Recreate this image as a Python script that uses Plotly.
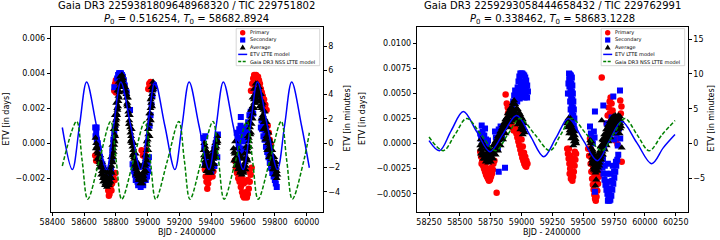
import plotly.graph_objects as go

W, H = 720, 240

# ---------------- left panel ----------------
L_TITLE1 = "Gaia DR3 2259381809648968320 / TIC 229751802"
L_TITLE2 = "<i>P</i><sub>0</sub> = 0.516254, <i>T</i><sub>0</sub> = 58682.8924"
L_XRANGE = [58390, 60101]
L_YRANGE = [-0.0039, 0.00666]

L_MODEL_X = [58463, 58526, 58571, 58616, 58678, 58741, 58786, 58831, 58893, 58956, 59001, 59046,
             59108, 59171, 59216, 59261, 59323, 59386, 59431, 59476, 59538, 59601, 59646, 59691,
             59753, 59816, 59861, 59906, 59968, 60017]
L_MODEL_Y = [0.0009, -0.0015, 0.0010, 0.0035, 0.0010, -0.0015, 0.0010, 0.0035, 0.0010, -0.0015,
             0.0010, 0.0035, 0.0010, -0.0015, 0.0010, 0.0035, 0.0010, -0.0015, 0.0010, 0.0035,
             0.0010, -0.0015, 0.0010, 0.0035, 0.0010, -0.0015, 0.0010, 0.0035, 0.0010, -0.0014]

L_GAIA_X = [58463, 58553, 58588, 58623, 58695, 58767, 58802, 58837, 58910, 58982, 59017, 59051,
            59124, 59196, 59231, 59266, 59338, 59411, 59446, 59481, 59553, 59625, 59660, 59695,
            59768, 59840, 59875, 59910, 59982, 60017]
L_GAIA_Y = [-0.0013, 0.00125, -0.0010, -0.0032, -0.0010, 0.00125, -0.0010, -0.0032, -0.0010,
            0.00125, -0.0010, -0.0032, -0.0010, 0.00125, -0.0010, -0.0032, -0.0010, 0.00125,
            -0.0010, -0.0032, -0.0010, 0.00125, -0.0010, -0.0032, -0.0010, 0.00125, -0.0010,
            -0.0032, -0.0010, 0.0006]

L_PRIMARY = [
    (58670, -0.0007), (58676, -0.0010), (58682, -0.0006), (58688, -0.0009),
    (58742, -0.0020), (58748, -0.0024), (58752, -0.0027), (58756, -0.0030), (58760, -0.0029),
    (58764, -0.0026), (58768, -0.0024), (58772, -0.0027), (58776, -0.0023), (58780, -0.0020),
    (58786, -0.0018), (58792, -0.0021), (58797, -0.0017), (58750, -0.0019), (58762, -0.0021),
    (58790, 0.0030), (58795, 0.0034), (58800, 0.0036), (58806, 0.0035), (58812, 0.0033),
    (58818, 0.0036), (58824, 0.0034), (58800, 0.0029),
    (58962, -0.0004), (58970, -0.0007), (58978, -0.0005), (58986, -0.0008), (58992, -0.0004),
    (59004, 0.0031), (59010, 0.0034), (59018, 0.0035), (59026, 0.0033), (59032, 0.0031),
    (59360, -0.0015), (59365, -0.0019), (59370, -0.0022), (59375, -0.0026), (59380, -0.0023),
    (59386, -0.0020), (59392, -0.0018), (59400, -0.0017), (59408, -0.0019), (59413, -0.0016),
    (59548, -0.0010), (59555, -0.0014), (59562, -0.0017), (59570, -0.0020), (59578, -0.0022),
    (59586, -0.0025), (59594, -0.0028), (59600, -0.0030), (59606, -0.0031), (59612, -0.0030),
    (59618, -0.0028), (59624, -0.0031), (59630, -0.0029), (59636, -0.0026), (59642, -0.0022),
    (59648, -0.0018), (59654, -0.0014), (59580, -0.0016), (59592, -0.0020), (59604, -0.0023),
    (59616, -0.0022), (59628, -0.0021), (59640, -0.0016),
    (59650, 0.0030), (59658, 0.0034), (59664, 0.0037), (59670, 0.0039), (59676, 0.0038),
    (59682, 0.0039), (59688, 0.0037), (59694, 0.0038), (59700, 0.0036), (59706, 0.0034),
    (59712, 0.0031), (59718, 0.0029), (59724, 0.0027), (59732, 0.0025), (59740, 0.0022),
    (59748, 0.0019), (59664, 0.0030), (59676, 0.0033), (59690, 0.0032), (59704, 0.0030),
    (59755, 0.0010), (59762, 0.0006), (59768, 0.0002), (59775, -0.0001),
]

L_SECONDARY = [
    (58670, 0.0009), (58676, 0.0006), (58680, 0.0002), (58686, 0.0000), (58692, -0.0003),
    (58672, 0.0004), (58679, 0.0009), (58700, -0.0008), (58708, -0.0011),
    (58715, -0.0012), (58722, -0.0014), (58728, -0.0016), (58735, -0.0017), (58742, -0.0016),
    (58750, -0.0018), (58758, -0.0019), (58765, -0.0017), (58770, -0.0015), (58730, -0.0019),
    (58745, -0.0020), (58760, -0.0021),
    (58778, -0.0004), (58784, 0.0002), (58790, 0.0006), (58795, 0.0009), (58775, -0.0010),
    (58790, 0.0032),
    (58808, 0.0037), (58814, 0.0039), (58820, 0.0040), (58826, 0.0040), (58832, 0.0040),
    (58838, 0.0039), (58844, 0.0038), (58850, 0.0036), (58856, 0.0033), (58862, 0.0030),
    (58868, 0.0029), (58826, 0.0036), (58840, 0.0035),
    (58889, 0.0019),
    (58905, -0.0012), (58912, -0.0015), (58920, -0.0018), (58928, -0.0020), (58936, -0.0022),
    (58944, -0.0023), (58952, -0.0023), (58960, -0.0023), (58968, -0.0022), (58976, -0.0020),
    (58984, -0.0018), (58992, -0.0015), (59000, -0.0012), (59008, -0.0008), (58950, -0.0020),
    (58970, -0.0019), (58915, -0.0016), (58925, -0.0021), (58940, -0.0024), (58956, -0.0025),
    (58972, -0.0024), (58988, -0.0021), (58996, -0.0019), (59004, -0.0016),
    (59012, 0.0010), (59018, 0.0016), (59024, 0.0022), (59030, 0.0027), (59036, 0.0031),
    (59040, 0.0033),
    (59350, 0.0003), (59356, -0.0002), (59362, 0.0004), (59366, -0.0006), (59372, -0.0009),
    (59380, -0.0011), (59388, -0.0010), (59396, -0.0011), (59404, -0.0009), (59412, -0.0006),
    (59420, -0.0003), (59428, 0.0000), (59436, 0.0002), (59442, 0.0005), (59360, -0.0012),
    (59400, -0.0016), (59420, -0.0013), (59438, -0.0008),
    (59586, 0.0015),
    (59560, 0.0006), (59566, 0.0003), (59572, 0.0000), (59578, -0.0003), (59584, 0.0010),
    (59590, 0.0007), (59596, 0.0004), (59602, 0.0001), (59608, -0.0003), (59614, 0.0002),
    (59620, 0.0006), (59626, 0.0009), (59632, 0.0012), (59576, 0.0008), (59640, 0.0016),
    (59648, 0.0018), (59656, 0.0019), (59664, 0.0017), (59600, 0.0009), (59590, -0.0006),
    (59712, 0.0009), (59720, 0.0008), (59728, 0.0004), (59736, 0.0002), (59744, -0.0002),
    (59752, -0.0005), (59760, -0.0008), (59768, -0.0011), (59776, -0.0014), (59784, -0.0017),
    (59792, -0.0019), (59800, -0.0021), (59806, -0.0023), (59812, -0.0025), (59740, 0.0006),
    (59760, 0.0000), (59780, -0.0008), (59800, -0.0015), (59716, 0.0013), (59724, 0.0011),
    (59732, 0.0008), (59748, 0.0003), (59756, -0.0001), (59764, -0.0004), (59772, -0.0007),
    (59788, -0.0012), (59796, -0.0014), (59808, -0.0019),
    (59680, 0.0028), (59688, 0.0026),
]

L_AVERAGE = [
    (58672, 0.0003), (58680, -0.0002), (58688, -0.0006), (58696, -0.0010), (58704, -0.0013),
    (58712, -0.0016), (58720, -0.0018), (58728, -0.0020), (58736, -0.0021), (58744, -0.0022),
    (58752, -0.0022), (58760, -0.0020), (58768, -0.0016), (58776, -0.0010), (58784, -0.0003),
    (58792, 0.0005), (58800, 0.0013), (58808, 0.0020), (58816, 0.0027), (58824, 0.0032),
    (58832, 0.0035), (58840, 0.0036), (58848, 0.0034), (58856, 0.0030),
    (58674, -0.0003), (58684, -0.0009), (58696, -0.0014), (58708, -0.0018), (58720, -0.0022),
    (58732, -0.0024), (58744, -0.0025), (58756, -0.0024), (58766, -0.0022), (58774, -0.0017),
    (58780, -0.0011), (58786, -0.0005), (58792, 0.0001), (58798, 0.0008), (58804, 0.0014),
    (58810, 0.0019), (58816, 0.0024), (58822, 0.0029), (58828, 0.0032), (58846, 0.0032),
    (58690, -0.0003), (58702, -0.0007), (58714, -0.0011), (58726, -0.0014), (58738, -0.0016),
    (58750, -0.0017), (58762, -0.0014), (58770, -0.0008), (58778, -0.0001), (58786, 0.0008),
    (58794, 0.0016), (58802, 0.0023), (58810, 0.0030), (58818, 0.0035), (58826, 0.0038),
    (58838, 0.0039),
    (58676, 0.0000), (58692, -0.0008), (58700, -0.0012), (58716, -0.0016), (58724, -0.0019),
    (58740, -0.0019), (58748, -0.0023), (58756, -0.0022), (58764, -0.0019), (58772, -0.0013),
    (58780, -0.0006), (58788, 0.0002), (58796, 0.0010), (58804, 0.0017), (58812, 0.0024),
    (58820, 0.0030), (58828, 0.0034), (58836, 0.0036), (58844, 0.0037), (58852, 0.0033),
    (58858, 0.0032), (58682, -0.0005), (58698, -0.0011), (58718, -0.0020), (58734, -0.0023),
    (58758, -0.0023), (58772, -0.0020), (58782, -0.0008), (58790, -0.0001), (58796, 0.0004),
    (58802, 0.0011), (58808, 0.0016), (58814, 0.0021), (58820, 0.0026), (58834, 0.0033),
    (58862, 0.0030), (58868, 0.0026), (58874, 0.0021), (58880, 0.0016), (58886, 0.0011),
    (58892, 0.0006), (58898, 0.0002), (58904, -0.0002), (58910, -0.0006), (58916, -0.0009),
    (58922, -0.0012), (58928, -0.0014), (58934, -0.0016), (58940, -0.0017), (58946, -0.0018),
    (58952, -0.0019), (58958, -0.0019), (58964, -0.0019), (58970, -0.0018), (58976, -0.0016),
    (58982, -0.0013), (58988, -0.0009), (58994, -0.0004), (59000, 0.0002), (59006, 0.0008),
    (59012, 0.0014), (59018, 0.0020), (59024, 0.0026), (59030, 0.0030), (59036, 0.0032),
    (58870, 0.0022), (58882, 0.0011), (58894, 0.0001), (58906, -0.0007), (58918, -0.0013),
    (58930, -0.0018), (58942, -0.0021), (58954, -0.0023), (58966, -0.0023), (58978, -0.0021),
    (58988, -0.0016), (58996, -0.0010), (59004, -0.0004), (59012, 0.0004), (59020, 0.0013),
    (59028, 0.0021),
    (58876, 0.0026), (58888, 0.0016), (58900, 0.0008), (58912, 0.0000), (58924, -0.0006),
    (58936, -0.0011), (58948, -0.0013), (58960, -0.0014), (58972, -0.0012), (58984, -0.0007),
    (58994, 0.0001), (59002, 0.0008), (59010, 0.0017), (59018, 0.0025), (59026, 0.0032),
    (59034, 0.0035),
    (58866, 0.0028), (58872, 0.0023), (58878, 0.0018), (58884, 0.0013), (58890, 0.0009),
    (58896, 0.0004), (58902, 0.0000), (58908, -0.0004), (58914, -0.0008), (58920, -0.0011),
    (58926, -0.0015), (58932, -0.0017), (58938, -0.0019), (58944, -0.0020), (58950, -0.0021),
    (58956, -0.0021), (58962, -0.0021), (58968, -0.0020), (58974, -0.0019), (58980, -0.0017),
    (58986, -0.0012), (58992, -0.0007), (58998, -0.0001), (59004, 0.0005), (59010, 0.0011),
    (59016, 0.0017), (59022, 0.0023), (59028, 0.0028), (59034, 0.0031),
    (59352, -0.0004), (59360, -0.0008), (59368, -0.0011), (59376, -0.0013), (59384, -0.0014),
    (59392, -0.0014), (59400, -0.0013), (59408, -0.0011), (59416, -0.0008), (59424, -0.0005),
    (59432, -0.0002), (59440, 0.0001), (59358, -0.0013), (59370, -0.0016), (59382, -0.0017),
    (59394, -0.0017), (59406, -0.0015), (59418, -0.0012), (59430, -0.0008), (59356, 0.0000),
    (59366, -0.0004), (59378, -0.0007), (59390, -0.0008), (59402, -0.0007), (59414, -0.0004),
    (59426, 0.0000), (59438, 0.0004),
    (59354, -0.0007), (59362, -0.0010), (59372, -0.0013), (59380, -0.0015), (59388, -0.0016),
    (59396, -0.0015), (59404, -0.0012), (59412, -0.0009), (59420, -0.0006), (59428, -0.0003),
    (59436, 0.0000), (59362, -0.0002), (59374, -0.0005), (59386, -0.0011), (59398, -0.0010),
    (59410, -0.0007), (59422, -0.0002), (59434, 0.0002),
    (59540, -0.0003), (59548, -0.0006), (59556, -0.0008), (59564, -0.0010), (59572, -0.0012),
    (59580, -0.0013), (59588, -0.0014), (59596, -0.0014), (59604, -0.0013), (59612, -0.0011),
    (59620, -0.0008), (59628, -0.0003), (59636, 0.0003), (59644, 0.0009), (59652, 0.0015),
    (59660, 0.0021), (59668, 0.0025), (59676, 0.0028), (59684, 0.0029), (59692, 0.0029),
    (59700, 0.0027), (59708, 0.0024), (59716, 0.0020), (59724, 0.0016), (59732, 0.0012),
    (59740, 0.0008), (59748, 0.0004), (59756, 0.0000), (59764, -0.0003), (59772, -0.0006),
    (59780, -0.0009), (59788, -0.0011), (59796, -0.0013), (59804, -0.0015), (59812, -0.0016),
    (59544, -0.0010), (59556, -0.0013), (59568, -0.0015), (59580, -0.0017), (59592, -0.0018),
    (59604, -0.0017), (59616, -0.0015), (59628, -0.0010), (59640, -0.0002), (59650, 0.0006),
    (59660, 0.0014), (59670, 0.0020), (59680, 0.0023), (59692, 0.0024), (59704, 0.0021),
    (59716, 0.0014), (59728, 0.0008), (59740, 0.0002), (59752, -0.0004), (59764, -0.0008),
    (59776, -0.0012), (59788, -0.0015), (59800, -0.0018), (59812, -0.0020),
    (59550, 0.0001), (59562, -0.0003), (59574, -0.0006), (59586, -0.0008), (59598, -0.0009),
    (59610, -0.0006), (59620, -0.0002), (59630, 0.0004), (59640, 0.0012), (59650, 0.0019),
    (59660, 0.0026), (59670, 0.0031), (59680, 0.0034), (59690, 0.0034), (59700, 0.0032),
    (59712, 0.0028), (59724, 0.0023), (59736, 0.0018), (59748, 0.0012), (59760, 0.0006),
    (59772, 0.0001), (59784, -0.0004), (59796, -0.0008), (59808, -0.0011),
    (59544, -0.0005), (59552, -0.0009), (59560, -0.0011), (59568, -0.0012), (59576, -0.0014),
    (59584, -0.0016), (59592, -0.0016), (59600, -0.0016), (59608, -0.0015), (59616, -0.0013),
    (59624, -0.0009), (59632, -0.0005), (59638, 0.0001), (59646, 0.0005), (59654, 0.0011),
    (59662, 0.0017), (59670, 0.0023), (59678, 0.0026), (59686, 0.0027), (59696, 0.0031),
    (59704, 0.0029), (59712, 0.0025), (59720, 0.0022), (59728, 0.0019), (59736, 0.0014),
    (59744, 0.0010), (59752, 0.0007), (59760, 0.0003), (59768, -0.0001), (59776, -0.0004),
    (59784, -0.0007), (59792, -0.0010), (59800, -0.0012), (59808, -0.0014), (59816, -0.0018),
]

# ---------------- right panel ----------------
R_TITLE1 = "Gaia DR3 2259293058444658432 / TIC 229762991"
R_TITLE2 = "<i>P</i><sub>0</sub> = 0.338462, <i>T</i><sub>0</sub> = 58683.1228"
R_XRANGE = [58150, 60347]
R_YRANGE = [-0.00677, 0.01166]

R_MODEL_X = [58250, 58335, 58430, 58528, 58636, 58744, 58852, 58960, 59070, 59180, 59280, 59380,
             59497, 59615, 59713, 59812, 59934, 60055, 60150, 60244]
R_MODEL_Y = [0.0003, -0.0007, 0.0013, 0.0032, 0.0012, -0.0008, 0.0010, 0.0028, 0.0008, -0.0013,
             0.0006, 0.0025, 0.0004, -0.0017, 0.0003, 0.0022, 0.0001, -0.0020, -0.0004, 0.0009]

R_GAIA_X = [58250, 58366, 58460, 58555, 58672, 58790, 58888, 58987, 59108, 59230, 59318, 59406,
            59528, 59650, 59744, 59838, 59936, 60035, 60140, 60244]
R_GAIA_Y = [0.00066, -0.0007, 0.0009, 0.0025, 0.0009, -0.0007, 0.0009, 0.0025, 0.0009, -0.0007,
            0.0009, 0.0025, 0.0009, -0.0007, 0.0009, 0.0025, 0.0009, -0.0007, 0.0009, 0.0023]

R_PRIMARY = [
    (58665, -0.0008), (58672, -0.0013), (58680, -0.0018), (58688, -0.0022), (58696, -0.0025),
    (58704, -0.0028), (58712, -0.0031), (58720, -0.0033), (58728, -0.0035), (58736, -0.0037),
    (58744, -0.0036), (58752, -0.0033), (58760, -0.0030), (58768, -0.0026), (58676, -0.0020),
    (58692, -0.0016), (58708, -0.0020), (58724, -0.0025), (58740, -0.0028), (58756, -0.0024),
    (58772, -0.0020), (58780, -0.0017),
    (58798, -0.0049),
    (58871, 0.0049), (58880, 0.0040), (58888, 0.0036), (58896, 0.0032), (58904, 0.0028),
    (58912, 0.0024), (58920, 0.0020), (58928, 0.0016), (58936, 0.0013), (58890, 0.0030),
    (58910, 0.0034), (58930, 0.0030), (58920, 0.0038), (58940, 0.0026),
    (58950, 0.0015), (58958, 0.0010), (58966, 0.0006), (58974, 0.0002), (58982, -0.0002),
    (58990, -0.0006), (58998, -0.0010), (59006, -0.0014), (59014, -0.0017), (59022, -0.0020),
    (59030, -0.0022), (59038, -0.0023), (58990, 0.0012), (59000, 0.0004), (59010, -0.0003),
    (59020, -0.0009), (59030, -0.0013), (59040, -0.0017), (59048, -0.0020), (58970, 0.0014),
    (58980, 0.0008),
    (59370, -0.0005), (59376, -0.0010), (59382, -0.0015), (59388, -0.0020), (59394, -0.0025),
    (59400, -0.0030), (59406, -0.0034), (59412, -0.0037), (59418, -0.0033), (59424, -0.0028),
    (59430, -0.0022), (59436, -0.0016), (59442, -0.0010), (59384, -0.0005), (59396, -0.0012),
    (59408, -0.0020), (59420, -0.0015), (59432, -0.0008), (59400, -0.0035), (59390, -0.0030),
    (59540, -0.0005), (59548, -0.0012), (59555, 0.0005), (59560, -0.0020), (59566, -0.0028),
    (59572, -0.0035), (59578, -0.0041), (59584, -0.0046), (59590, -0.0051), (59596, -0.0055),
    (59602, -0.0057), (59608, -0.0053), (59614, -0.0047), (59620, -0.0040), (59626, -0.0033),
    (59632, -0.0026), (59560, -0.0005), (59570, -0.0015), (59580, -0.0025), (59590, -0.0033),
    (59600, -0.0040), (59610, -0.0035), (59620, -0.0028), (59630, -0.0020), (59638, -0.0012),
    (59690, 0.0020), (59698, 0.0028), (59706, 0.0036), (59714, 0.0042), (59722, 0.0046),
    (59730, 0.0040), (59738, 0.0033), (59746, 0.0026), (59754, 0.0018), (59762, 0.0010),
    (59770, 0.0004), (59778, -0.0001), (59700, 0.0012), (59715, 0.0030), (59730, 0.0022),
    (59745, 0.0014), (59760, 0.0003), (59800, 0.0043), (59810, 0.0037), (59805, 0.0030),
    (59650, 0.0066), (59812, -0.0018),
]

R_SECONDARY = [
    (58665, 0.0010), (58672, 0.0005), (58677, 0.0018), (58684, 0.0012), (58690, 0.0000),
    (58698, 0.0008), (58704, 0.0015), (58712, 0.0004), (58720, -0.0002), (58728, 0.0003),
    (58785, 0.0012), (58792, 0.0006), (58800, 0.0000), (58808, -0.0005), (58815, 0.0014),
    (58822, 0.0008), (58830, 0.0017), (58836, 0.0012), (58842, 0.0005),
    (58866, -0.0024), (58815, -0.0028),
    (58925, 0.0035), (58932, 0.0042), (58940, 0.0048), (58948, 0.0053), (58955, 0.0045),
    (58962, 0.0050), (58968, 0.0056), (58975, 0.0062), (58982, 0.0067), (58990, 0.0070),
    (58998, 0.0070), (59006, 0.0070), (59014, 0.0069), (59022, 0.0068), (59030, 0.0066),
    (59038, 0.0063), (59046, 0.0058), (59052, 0.0052), (58975, 0.0050), (58985, 0.0055),
    (58995, 0.0060), (59005, 0.0062), (59015, 0.0058), (59025, 0.0054), (59035, 0.0050),
    (59045, 0.0046), (58965, 0.0042), (58985, 0.0045), (59005, 0.0050), (59025, 0.0046),
    (59000, 0.0055), (59040, 0.0055),
    (59385, 0.0070), (59392, 0.0069), (59400, 0.0068), (59408, 0.0066), (59386, 0.0064),
    (59396, 0.0062), (59404, 0.0060), (59412, 0.0058), (59388, 0.0057), (59398, 0.0055),
    (59408, 0.0052), (59416, 0.0050), (59390, 0.0050), (59402, 0.0047), (59412, 0.0044),
    (59420, 0.0042), (59394, 0.0042), (59406, 0.0039), (59416, 0.0036), (59424, 0.0034),
    (59398, 0.0034), (59410, 0.0031), (59420, 0.0028), (59428, 0.0025), (59402, 0.0026),
    (59414, 0.0022), (59424, 0.0018), (59430, 0.0014), (59380, 0.0060), (59376, 0.0050),
    (59555, 0.0017), (59562, 0.0010), (59570, 0.0004), (59578, 0.0000), (59586, 0.0012),
    (59592, 0.0006),
    (59595, 0.0032), (59663, 0.0038), (59744, 0.0047), (59798, 0.0053), (59595, -0.0048),
    (59640, -0.0013), (59648, -0.0018), (59656, -0.0024), (59664, -0.0030), (59672, -0.0036),
    (59680, -0.0041), (59688, -0.0046), (59696, -0.0050), (59704, -0.0054), (59712, -0.0057),
    (59720, -0.0056), (59728, -0.0052), (59736, -0.0046), (59744, -0.0040), (59752, -0.0034),
    (59760, -0.0028), (59768, -0.0022), (59776, -0.0016), (59784, -0.0011), (59660, -0.0015),
    (59675, -0.0022), (59690, -0.0030), (59705, -0.0038), (59720, -0.0045), (59735, -0.0037),
    (59750, -0.0028), (59765, -0.0018), (59700, -0.0020), (59720, -0.0030), (59740, -0.0022),
    (59710, -0.0047), (59700, -0.0057), (59690, -0.0040),
    (59690, 0.0020), (59700, 0.0014), (59710, 0.0008), (59720, 0.0018), (59730, 0.0026),
    (59740, 0.0012), (59750, 0.0004), (59760, 0.0020), (59770, 0.0010), (59780, -0.0002),
    (59790, 0.0015), (59800, 0.0005),
]

R_AVERAGE = [
    (58665, -0.0002), (58675, -0.0006), (58685, -0.0009), (58695, -0.0011), (58705, -0.0012),
    (58715, -0.0013), (58725, -0.0013), (58735, -0.0013), (58745, -0.0012), (58755, -0.0011),
    (58765, -0.0009), (58775, -0.0007), (58785, -0.0005), (58795, -0.0003), (58805, 0.0000),
    (58815, 0.0003), (58825, 0.0006), (58835, 0.0009), (58845, 0.0012), (58855, 0.0015),
    (58865, 0.0018), (58875, 0.0021), (58885, 0.0024), (58895, 0.0027), (58905, 0.0029),
    (58915, 0.0031), (58925, 0.0032), (58935, 0.0033), (58945, 0.0032), (58955, 0.0030),
    (58965, 0.0028), (58975, 0.0025), (58985, 0.0022), (58995, 0.0019), (59005, 0.0016),
    (59015, 0.0013), (59025, 0.0011),
    (58670, -0.0010), (58690, -0.0015), (58710, -0.0018), (58730, -0.0019), (58750, -0.0018),
    (58770, -0.0015), (58790, -0.0011), (58810, -0.0007), (58830, -0.0002), (58850, 0.0004),
    (58870, 0.0010), (58890, 0.0016), (58910, 0.0021), (58930, 0.0024), (58950, 0.0023),
    (58970, 0.0019), (58990, 0.0014), (59010, 0.0009),
    (58668, 0.0004), (58688, -0.0002), (58708, -0.0005), (58728, -0.0006), (58748, -0.0005),
    (58768, -0.0002), (58788, 0.0002), (58808, 0.0007), (58828, 0.0012), (58848, 0.0018),
    (58868, 0.0024), (58888, 0.0030), (58908, 0.0035), (58928, 0.0040), (58940, 0.0043),
    (58950, 0.0039), (58970, 0.0034), (58990, 0.0029), (59010, 0.0024),
    (58670, -0.0005), (58680, -0.0012), (58700, -0.0015), (58720, -0.0016), (58740, -0.0016),
    (58760, -0.0014), (58780, -0.0010), (58800, -0.0006), (58820, -0.0001), (58840, 0.0005),
    (58860, 0.0011), (58880, 0.0017), (58900, 0.0023), (58920, 0.0028), (58940, 0.0028),
    (58960, 0.0026), (58980, 0.0021), (59000, 0.0017), (59020, 0.0015), (58680, 0.0001),
    (58700, -0.0003), (58720, -0.0009), (58740, -0.0008), (58760, -0.0007), (58780, -0.0002),
    (58800, 0.0003), (58820, 0.0009), (58840, 0.0015), (58860, 0.0021), (58880, 0.0026),
    (58900, 0.0032), (58920, 0.0036), (58960, 0.0035), (58980, 0.0031), (59000, 0.0026),
    (59020, 0.0020),
    (59368, 0.0020), (59376, 0.0016), (59384, 0.0022), (59392, 0.0018), (59400, 0.0014),
    (59408, 0.0010), (59416, 0.0006), (59424, 0.0002), (59432, 0.0008), (59440, 0.0004),
    (59380, 0.0025), (59396, 0.0025), (59412, 0.0018), (59428, 0.0012), (59420, -0.0002),
    (59444, 0.0000), (59386, 0.0010), (59402, 0.0005), (59372, 0.0023), (59380, 0.0018),
    (59390, 0.0013), (59398, 0.0020), (59406, 0.0016), (59414, 0.0012), (59422, 0.0009),
    (59430, 0.0005), (59438, 0.0002),
    (59556, 0.0003), (59562, -0.0004), (59568, -0.0010), (59574, -0.0014), (59580, -0.0018),
    (59586, -0.0021), (59592, -0.0023), (59598, -0.0024), (59604, -0.0024), (59610, -0.0023),
    (59616, -0.0021), (59622, -0.0019), (59628, -0.0016), (59634, -0.0013), (59640, -0.0010),
    (59648, -0.0007), (59656, -0.0004), (59664, -0.0001), (59672, 0.0002), (59680, 0.0005),
    (59688, 0.0007), (59696, 0.0010), (59704, 0.0012), (59712, 0.0014), (59720, 0.0016),
    (59728, 0.0018), (59736, 0.0020), (59744, 0.0021), (59752, 0.0022), (59760, 0.0023),
    (59768, 0.0024), (59776, 0.0024), (59784, 0.0023), (59792, 0.0022), (59800, 0.0020),
    (59808, 0.0017),
    (59570, -0.0020), (59585, -0.0026), (59600, -0.0029), (59615, -0.0027), (59630, -0.0022),
    (59645, -0.0016), (59660, -0.0011), (59675, -0.0006), (59690, -0.0002), (59705, 0.0002),
    (59720, 0.0006), (59735, 0.0010), (59750, 0.0013), (59765, 0.0015), (59780, 0.0014),
    (59795, 0.0010), (59812, -0.0004),
    (59565, 0.0002), (59580, -0.0008), (59595, -0.0014), (59610, -0.0015), (59625, -0.0010),
    (59640, -0.0003), (59650, 0.0023), (59655, 0.0004), (59670, 0.0009), (59685, 0.0014),
    (59700, 0.0018), (59715, 0.0022), (59730, 0.0025), (59745, 0.0027), (59760, 0.0028),
    (59771, 0.0023), (59785, 0.0028), (59798, 0.0027),
    (59560, 0.0000), (59572, -0.0017), (59584, -0.0024), (59596, -0.0027), (59608, -0.0027),
    (59620, -0.0024), (59632, -0.0019), (59644, -0.0013), (59656, -0.0008), (59668, -0.0004),
    (59680, 0.0000), (59692, 0.0004), (59704, 0.0007), (59716, 0.0010), (59728, 0.0013),
    (59740, 0.0016), (59752, 0.0018), (59764, 0.0019), (59776, 0.0019), (59788, 0.0018),
    (59800, 0.0015), (59576, -0.0006), (59588, -0.0011), (59600, -0.0018), (59612, -0.0018),
    (59624, -0.0014), (59636, -0.0007), (59648, -0.0002), (59660, 0.0003), (59672, 0.0006),
    (59684, 0.0010), (59696, 0.0015), (59708, 0.0017), (59720, 0.0020), (59732, 0.0022),
    (59744, 0.0024), (59756, 0.0025), (59768, 0.0026), (59780, 0.0026), (59792, 0.0025),
    (59804, 0.0023),
    (59598, -0.0042), (59605, -0.0036),
]

LEGEND_LABELS = ["Primary", "Secondary", "Average", "ETV LTTE model", "Gaia DR3 NSS LTTE model"]
MIN_PER_DAY = 1440.0

# ---------------- layout geometry (pixels) ----------------
FONT = "DejaVu Sans"
Y_TOP, Y_BOT = 26.7, 211.5
PANELS = [
    dict(left=50.7, right=322.7, xr=L_XRANGE, yr=L_YRANGE, fmt=".3f", dy=0.002, dy2=2,
         x0=58400, dx=200, t1=L_TITLE1, t2=L_TITLE2,
         model=(L_MODEL_X, L_MODEL_Y), gaia=(L_GAIA_X, L_GAIA_Y),
         pri=L_PRIMARY, sec=L_SECONDARY, avg=L_AVERAGE, ylab_x=6.5, y2lab_x=347.5),
    dict(left=416.7, right=687.7, xr=R_XRANGE, yr=R_YRANGE, fmt=".4f", dy=0.0025, dy2=5,
         x0=58250, dx=250, t1=R_TITLE1, t2=R_TITLE2,
         model=(R_MODEL_X, R_MODEL_Y), gaia=(R_GAIA_X, R_GAIA_Y),
         pri=R_PRIMARY, sec=R_SECONDARY, avg=R_AVERAGE, ylab_x=362.0, y2lab_x=711.5),
]


def fx(px):
    return px / W


def fy(py):
    return 1 - py / H


fig = go.Figure()
layout = dict(width=W, height=H, autosize=False,
              margin=dict(l=0, r=0, t=0, b=0, pad=0, autoexpand=False),
              paper_bgcolor="white", plot_bgcolor="white", showlegend=False,
              font=dict(family=FONT, size=8, color="black"))
shapes, annotations = [], []

for i, p in enumerate(PANELS):
    xa = "x" if i == 0 else "x2"
    ya = "y" if i == 0 else "y3"
    ya2 = "y2" if i == 0 else "y4"
    xkey = "xaxis" if i == 0 else "xaxis2"
    ykey = "yaxis" if i == 0 else "yaxis3"
    y2key = "yaxis2" if i == 0 else "yaxis4"

    common = dict(showgrid=False, zeroline=False, showline=True, linecolor="black", linewidth=1,
                  ticks="outside", ticklen=3, tickwidth=0.8, tickcolor="black", automargin=False,
                  tickfont=dict(family=FONT, size=8, color="black"))
    layout[xkey] = dict(domain=[fx(p["left"]), fx(p["right"])], range=p["xr"], anchor=ya,
                        tick0=p["x0"], dtick=p["dx"], tickformat="d", mirror=True, **common)
    layout[ykey] = dict(domain=[fy(Y_BOT), fy(Y_TOP)], range=p["yr"], anchor=xa,
                        dtick=p["dy"], tick0=0, tickformat=p["fmt"], **common)
    layout[y2key] = dict(overlaying=ya, side="right", anchor=xa,
                         range=[p["yr"][0] * MIN_PER_DAY, p["yr"][1] * MIN_PER_DAY],
                         dtick=p["dy2"], tick0=0, tickformat="d", **common)

    px_, py_ = zip(*p["pri"])
    sx_, sy_ = zip(*p["sec"])
    ax_, ay_ = zip(*p["avg"])
    fig.add_trace(go.Scatter(x=px_, y=py_, mode="markers", xaxis=xa, yaxis=ya,
                             marker=dict(symbol="circle", size=6.5, color="red", line=dict(width=0))))
    fig.add_trace(go.Scatter(x=sx_, y=sy_, mode="markers", xaxis=xa, yaxis=ya,
                             marker=dict(symbol="square", size=6, color="blue", line=dict(width=0))))
    fig.add_trace(go.Scatter(x=ax_, y=ay_, mode="markers", xaxis=xa, yaxis=ya,
                             marker=dict(symbol="triangle-up", size=7, color="black", line=dict(width=0))))
    fig.add_trace(go.Scatter(x=p["model"][0], y=p["model"][1], mode="lines", xaxis=xa, yaxis=ya,
                             line=dict(color="blue", width=1.5, shape="spline")))
    fig.add_trace(go.Scatter(x=p["gaia"][0], y=p["gaia"][1], mode="lines", xaxis=xa, yaxis=ya,
                             line=dict(color="green", width=1.5, shape="spline", dash="4px,2px")))
    fig.add_trace(go.Scatter(x=[None], y=[None], xaxis=xa, yaxis=ya2, hoverinfo="skip"))

    cx = (p["left"] + p["right"]) / 2
    annotations += [
        dict(text=p["t1"] + "<br>" + p["t2"], x=fx(cx), y=fy(12.5), xref="paper", yref="paper",
             showarrow=False, xanchor="center", yanchor="middle", font=dict(family=FONT, size=10)),
        dict(text="BJD - 2400000", x=fx(cx), y=fy(232.5), xref="paper", yref="paper",
             showarrow=False, xanchor="center", yanchor="middle", font=dict(family=FONT, size=8)),
        dict(text="ETV [in days]", x=fx(p["ylab_x"]), y=fy((Y_TOP + Y_BOT) / 2), xref="paper",
             yref="paper", showarrow=False, textangle=-90, xanchor="center", yanchor="middle",
             font=dict(family=FONT, size=8)),
        dict(text="ETV [in minutes]", x=fx(p["y2lab_x"]), y=fy((Y_TOP + Y_BOT) / 2), xref="paper",
             yref="paper", showarrow=False, textangle=-90, xanchor="center", yanchor="middle",
             font=dict(family=FONT, size=8)),
    ]

    # legend (drawn by hand: plotly's legend rows cannot be this small)
    bx0, bx1 = p["right"] - 86.5, p["right"] - 3.0
    by0, by1 = 28.7, 65.7
    shapes.append(dict(type="rect", xref="paper", yref="paper", x0=fx(bx0), x1=fx(bx1),
                       y0=fy(by1), y1=fy(by0), line=dict(color="#cccccc", width=0.8),
                       fillcolor="rgba(255,255,255,0.85)", layer="above"))
    rows = [32.8, 40.0, 47.2, 54.4, 61.6]
    mx = bx0 + 6.5
    r = rows[0]
    shapes.append(dict(type="circle", xref="paper", yref="paper", x0=fx(mx - 2.7), x1=fx(mx + 2.7),
                       y0=fy(r + 2.7), y1=fy(r - 2.7), fillcolor="red", line=dict(width=0),
                       layer="above"))
    r = rows[1]
    shapes.append(dict(type="rect", xref="paper", yref="paper", x0=fx(mx - 2.6), x1=fx(mx + 2.6),
                       y0=fy(r + 2.6), y1=fy(r - 2.6), fillcolor="blue", line=dict(width=0),
                       layer="above"))
    r = rows[2]
    shapes.append(dict(type="path", xref="paper", yref="paper",
                       path="M %.5f,%.5f L %.5f,%.5f L %.5f,%.5f Z" % (
                           fx(mx - 3.0), fy(r + 2.4), fx(mx + 3.0), fy(r + 2.4), fx(mx), fy(r - 2.8)),
                       fillcolor="black", line=dict(width=0), layer="above"))
    shapes.append(dict(type="line", xref="paper", yref="paper", x0=fx(bx0 + 2), x1=fx(bx0 + 11),
                       y0=fy(rows[3]), y1=fy(rows[3]), line=dict(color="blue", width=1.5),
                       layer="above"))
    shapes.append(dict(type="line", xref="paper", yref="paper", x0=fx(bx0 + 2), x1=fx(bx0 + 11),
                       y0=fy(rows[4]), y1=fy(rows[4]),
                       line=dict(color="green", width=1.5, dash="3px,1.5px"), layer="above"))
    for lab, r in zip(LEGEND_LABELS, rows):
        annotations.append(dict(text=lab, x=fx(bx0 + 13), y=fy(r), xref="paper", yref="paper",
                                showarrow=False, xanchor="left", yanchor="middle",
                                font=dict(family=FONT, size=5, color="black"), borderpad=0))

layout["shapes"] = shapes
layout["annotations"] = annotations
fig.update_layout(**layout)
fig.write_html("out.html", config={"displayModeBar": False},
               post_script="document.body.style.margin='0px';document.body.style.padding='0px';")
